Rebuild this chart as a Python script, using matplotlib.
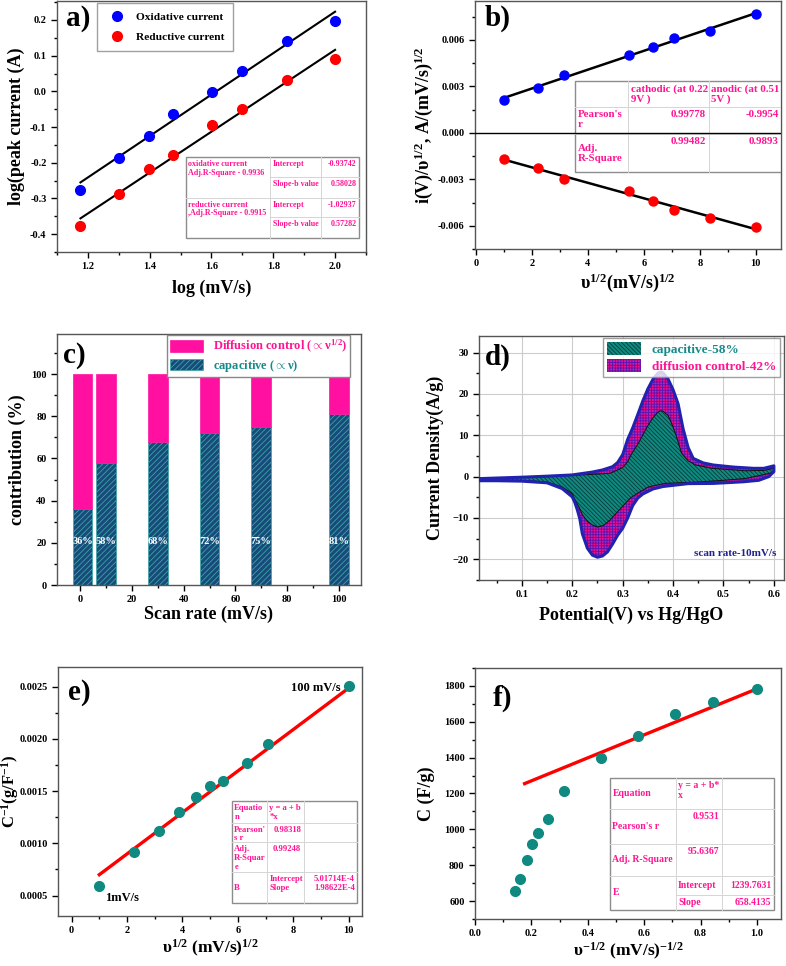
import numpy as np
import matplotlib
matplotlib.use("Agg")
import matplotlib.pyplot as plt
from matplotlib.patches import Rectangle, Patch
from matplotlib.ticker import MultipleLocator, FormatStrFormatter

plt.rcParams['font.family'] = ['Liberation Serif', 'DejaVu Serif']
plt.rcParams['font.weight'] = 'bold'
plt.rcParams['axes.labelweight'] = 'bold'
plt.rcParams['mathtext.fontset'] = 'custom'
plt.rcParams['mathtext.rm'] = 'Liberation Serif:bold'
plt.rcParams['mathtext.it'] = 'Liberation Serif:bold:italic'
plt.rcParams['mathtext.bf'] = 'Liberation Serif:bold'
plt.rcParams['mathtext.default'] = 'rm'
plt.rcParams['hatch.linewidth'] = 0.6

PINK = '#ff1493'
TEAL = '#108a80'

# ---- a) log peak current vs log scan rate
log_rate = [1.176, 1.301, 1.398, 1.477, 1.602, 1.699, 1.845, 2.0]
log_ox = [-0.275, -0.187, -0.125, -0.062, -0.002, 0.058, 0.142, 0.196]
log_red = [-0.377, -0.288, -0.217, -0.177, -0.095, -0.049, 0.033, 0.091]
ox_fit = (-0.93742, 0.58028)
red_fit = (-1.02937, 0.57282)

# ---- b) i/v^0.5 vs v^0.5
sqrt_rate_b = [1.0, 2.236, 3.162, 5.477, 6.325, 7.071, 8.367, 10.0]
anodic_b = [0.00214, 0.00291, 0.00370, 0.00503, 0.00556, 0.00610, 0.00655, 0.00766]
cathodic_b = [-0.00171, -0.00225, -0.00297, -0.00374, -0.00438, -0.00498, -0.00552, -0.00607]

# ---- c) contribution bars
scan_rate_c = [1, 10, 30, 50, 70, 100]
capacitive_c = [36, 58, 68, 72, 75, 81]

# ---- d) CV at 10 mV/s, total (outer) and capacitive (inner)
outer_up_v = [0.015, 0.05, 0.10, 0.15, 0.20, 0.24, 0.26, 0.28, 0.29, 0.30, 0.31, 0.32, 0.33,
              0.34, 0.35, 0.36, 0.37, 0.375, 0.38, 0.39, 0.40, 0.41, 0.42, 0.43, 0.44, 0.46,
              0.48, 0.52, 0.56, 0.58, 0.60]
outer_up_i = [-0.5, -0.35, -0.15, 0.1, 0.4, 1.1, 1.6, 2.4, 3.4, 5.3, 9.0, 11.8, 15.0,
              18.3, 21.2, 23.5, 25.0, 25.3, 25.1, 23.6, 21.0, 17.6, 11.5, 7.0, 4.4, 3.3,
              2.8, 2.3, 2.0, 2.0, 2.6]
outer_dn_v = [0.60, 0.59, 0.57, 0.54, 0.48, 0.43, 0.38, 0.36, 0.34, 0.33, 0.32, 0.31, 0.30,
              0.29, 0.28, 0.27, 0.26, 0.25, 0.24, 0.23, 0.22, 0.215, 0.21, 0.205, 0.20, 0.18,
              0.15, 0.10, 0.05, 0.015]
outer_dn_i = [1.2, 0.0, -0.9, -1.25, -1.65, -1.7, -2.4, -3.0, -4.2, -5.2, -7.0, -10.0, -12.5,
              -14.2, -16.3, -18.2, -19.2, -19.5, -19.0, -17.3, -13.8, -10.2, -8.0, -6.2, -4.9, -2.9,
              -1.5, -1.1, -1.0, -1.0]
inner_up_v = [0.015, 0.10, 0.15, 0.20, 0.25, 0.275, 0.29, 0.30, 0.31, 0.318, 0.33, 0.338, 0.35,
              0.36, 0.37, 0.375, 0.38, 0.39, 0.40, 0.407, 0.417, 0.43, 0.445, 0.478, 0.544,
              0.58, 0.60]
inner_up_i = [-0.6, -0.2, 0.0, 0.3, 0.6, 0.8, 1.6, 2.2, 3.6, 5.6, 7.8, 9.6, 12.3,
              14.2, 15.6, 15.9, 15.8, 14.8, 12.0, 9.6, 5.6, 3.8, 2.8, 2.0, 1.4,
              1.5, 2.0]
inner_dn_v = [0.60, 0.59, 0.544, 0.50, 0.45, 0.412, 0.383, 0.351, 0.33, 0.315, 0.305, 0.29,
              0.275, 0.262, 0.25, 0.24, 0.23, 0.22, 0.214, 0.207, 0.20, 0.18, 0.15, 0.10, 0.015]
inner_dn_i = [1.2, 0.75, -0.45, -0.9, -1.3, -1.5, -1.65, -2.5, -4.0, -5.2, -6.5, -8.5,
              -10.5, -11.8, -12.2, -11.7, -10.8, -9.2, -7.5, -6.0, -4.1, -2.5, -1.3, -0.9, -0.8]

# ---- e) 1/C vs v^0.5
sqrt_rate_e = [1.0, 2.236, 3.162, 3.873, 4.472, 5.0, 5.477, 6.325, 7.071, 10.0]
inv_cap = [0.000596, 0.000922, 0.00112, 0.00130, 0.00144, 0.00155, 0.00160, 0.00177, 0.00195, 0.00251]
e_fit = (5.01714e-4, 1.98622e-4)

# ---- f) C vs v^-0.5
inv_sqrt_rate = [0.143, 0.160, 0.184, 0.203, 0.225, 0.259, 0.317, 0.448, 0.578, 0.710, 0.844, 1.0]
cap_f = [656, 721, 828, 919, 982, 1058, 1216, 1398, 1520, 1642, 1712, 1781]
f_line_x = [0.176, 1.0]
f_line_y = [1255, 1784]


def style(ax, xmaj, xmin, ymaj, ymin):
    ax.xaxis.set_major_locator(MultipleLocator(xmaj))
    ax.xaxis.set_minor_locator(MultipleLocator(xmin))
    ax.yaxis.set_major_locator(MultipleLocator(ymaj))
    ax.yaxis.set_minor_locator(MultipleLocator(ymin))
    ax.tick_params(which='both', direction='out', labelsize=7.5, width=1)
    ax.tick_params(which='major', length=4)
    ax.tick_params(which='minor', length=2.5)
    for s in ax.spines.values():
        s.set_linewidth(1.0)
        s.set_color('#555555')
    for lab in ax.get_xticklabels() + ax.get_yticklabels():
        lab.set_fontweight('bold')


def draw_table(ax, box, col_edges, row_edges, hlines, cells, fs):
    x0, y0, x1, y1 = box
    X = lambda f: x0 + f * (x1 - x0)
    Y = lambda f: y1 - f * (y1 - y0)
    ax.add_patch(Rectangle((x0, y0), x1 - x0, y1 - y0, transform=ax.transAxes,
                           facecolor='white', edgecolor='#8c8c8c', lw=1.0, zorder=5))
    for c in col_edges[1:-1]:
        ax.plot([X(c), X(c)], [y0, y1], transform=ax.transAxes, color='#d5d5d5', lw=0.7, zorder=6)
    for r, c0, c1 in hlines:
        ax.plot([X(col_edges[c0]), X(col_edges[c1])], [Y(row_edges[r])] * 2,
                transform=ax.transAxes, color='#d5d5d5', lw=0.7, zorder=6)
    for r0, r1, c, txt, ha, va in cells:
        if ha == 'left':
            xt = X(col_edges[c]) + 0.008
        else:
            xt = X(col_edges[c + 1]) - 0.008
        if va == 'top':
            yt = Y(row_edges[r0]) - 0.012
        else:
            yt = (Y(row_edges[r0]) + Y(row_edges[r1])) / 2
        ax.text(xt, yt, txt, transform=ax.transAxes, ha=ha, va=va, fontsize=fs,
                color=PINK, fontweight='bold', zorder=7, linespacing=1.15)


def panel_label(ax, x, y, s):
    ax.text(x, y, s, transform=ax.transAxes, fontsize=21, fontweight='bold', va='top', ha='left')


fig = plt.figure(figsize=(7.86, 9.66), dpi=100)

# ================= a
ax = fig.add_axes([0.0725, 0.7391, 0.3931, 0.2598])
xa = np.array([log_rate[0], log_rate[-1]])
ax.plot(xa, ox_fit[0] + ox_fit[1] * xa, color='black', lw=1.5)
ax.plot(xa, red_fit[0] + red_fit[1] * xa, color='black', lw=1.5)
ax.plot(log_rate, log_ox, 'o', color='#0000ff', ms=7, label='Oxidative current', zorder=4)
ax.plot(log_rate, log_red, 'o', color='#ff0000', ms=7, label='Reductive current', zorder=4)
ax.set_xlim(1.10, 2.10)
ax.set_ylim(-0.45, 0.253)
style(ax, 0.2, 0.1, 0.1, 0.05)
ax.yaxis.set_major_formatter(FormatStrFormatter('%.1f'))
ax.set_xlabel('log (mV/s)', fontsize=13, labelpad=6)
ax.set_ylabel('log(peak current (A)', fontsize=13, labelpad=4)
leg = ax.legend(loc='upper left', bbox_to_anchor=(0.129, 0.992), fontsize=8.2, frameon=True,
                fancybox=False, edgecolor='#888888', borderpad=0.8, labelspacing=0.85,
                handletextpad=0.6, borderaxespad=0)
leg.get_frame().set_linewidth(1.0)
panel_label(ax, 0.03, 0.985, 'a)')
draw_table(ax, (0.417, 0.056, 0.977, 0.378), [0, 0.489, 0.784, 1], [0, 0.245, 0.5, 0.735, 1],
           [(1, 1, 3), (2, 0, 3), (3, 1, 3)],
           [(0, 1, 0, 'oxidative current\nAdj.R-Square - 0.9936', 'left', 'top'),
            (0, 1, 1, 'Intercept', 'left', 'top'),
            (0, 1, 2, '-0.93742', 'right', 'top'),
            (1, 2, 1, 'Slope-b value', 'left', 'top'),
            (1, 2, 2, '0.58028', 'right', 'top'),
            (2, 3, 0, 'reductive current\n,Adj.R-Square - 0.9915', 'left', 'top'),
            (2, 3, 1, 'Intercept', 'left', 'top'),
            (2, 3, 2, '-1.02937', 'right', 'top'),
            (3, 4, 1, 'Slope-b value', 'left', 'top'),
            (3, 4, 2, '0.57282', 'right', 'top')], 5.8)

# ================= b
ax = fig.add_axes([0.6043, 0.7422, 0.3893, 0.2567])
xb = np.array(sqrt_rate_b)
pa = np.polyfit(xb, anodic_b, 1)
pc = np.polyfit(xb, cathodic_b, 1)
ax.plot(xb[[0, -1]], np.polyval(pa, xb[[0, -1]]), color='black', lw=1.8, zorder=3)
ax.plot(xb[[0, -1]], np.polyval(pc, xb[[0, -1]]), color='black', lw=1.8, zorder=3)
ax.plot(xb, anodic_b, 'o', color='#0000ff', ms=6.5, zorder=4)
ax.plot(xb, cathodic_b, 'o', color='#ff0000', ms=6.5, zorder=4)
ax.set_xlim(-0.03, 10.9)
ax.set_ylim(-0.0075, 0.0085)
style(ax, 2, 1, 0.003, 0.0015)
ax.yaxis.set_major_formatter(FormatStrFormatter('%.3f'))
ax.set_xlabel('υ$^{1/2}$(mV/s)$^{1/2}$', fontsize=13, labelpad=2)
ax.set_ylabel('i(V)/υ$^{1/2}$, A/(mV/s)$^{1/2}$', fontsize=13, labelpad=2)
panel_label(ax, 0.033, 0.985, 'b)')
draw_table(ax, (0.327, 0.31, 1.0, 0.677), [0, 0.258, 0.649, 1], [0, 0.28, 0.58, 1],
           [(1, 0, 3), (2, 0, 3)],
           [(0, 1, 1, 'cathodic (at 0.22\n9V )', 'left', 'top'),
            (0, 1, 2, 'anodic (at 0.51\n5V )', 'left', 'top'),
            (1, 2, 0, "Pearson's\nr", 'left', 'top'),
            (1, 2, 1, '0.99778', 'right', 'top'),
            (1, 2, 2, '-0.9954', 'right', 'top'),
            (2, 3, 0, 'Adj.\nR-Square', 'left', 'center'),
            (2, 3, 1, '0.99482', 'right', 'top'),
            (2, 3, 2, '0.9893', 'right', 'top')], 7.8)
ax.axhline(0, color='black', lw=1.0, zorder=8)

# ================= c
ax = fig.add_axes([0.0725, 0.3944, 0.3868, 0.2598])
cap = np.array(capacitive_c)
ax.bar(scan_rate_c, cap, width=7.6, facecolor='#184a7a', edgecolor='#3aa6a6', hatch='//////',
       lw=0.5, label=r'capacitive ($\propto$ν)', zorder=2)
ax.bar(scan_rate_c, 100 - cap, bottom=cap, width=7.6, color='#ff10a0', edgecolor='#ff10a0',
       lw=0.5, label=r'Diffusion control ($\propto$ν$^{1/2}$)', zorder=2)
for xr, v in zip(scan_rate_c, capacitive_c):
    ax.text(xr, 20.5, f'{v}%', ha='center', va='center', color='white', fontsize=7.5,
            fontweight='bold', zorder=3)
ax.set_xlim(-8.9, 108.5)
ax.set_ylim(0, 119)
style(ax, 20, 10, 20, 10)
ax.set_xlabel('Scan rate (mV/s)', fontsize=13, labelpad=1)
ax.set_ylabel('contribution (%)', fontsize=13, labelpad=4)
h, l = ax.get_legend_handles_labels()
leg = ax.legend(h[::-1], l[::-1], loc='upper right', bbox_to_anchor=(0.965, 0.996), fontsize=9,
                fancybox=False, edgecolor='#888888', borderpad=0.25, labelspacing=0.2,
                handlelength=2.6, handleheight=1.05, borderaxespad=0, framealpha=1)
leg.get_texts()[0].set_color(PINK)
leg.get_texts()[1].set_color('#168a8a')
panel_label(ax, 0.02, 0.97, 'c)')

# ================= d
ax = fig.add_axes([0.6094, 0.3996, 0.3880, 0.2526])
ov = outer_up_v + outer_dn_v
oi = outer_up_i + outer_dn_i
iv = inner_up_v + inner_dn_v
ii = inner_up_i + inner_dn_i
ax.fill(ov, oi, facecolor='#e8128e', edgecolor='#5a14b0', hatch='++++++', lw=0, zorder=2)
ax.fill(iv, ii, facecolor=TEAL, edgecolor='#0a3a3a', hatch='\\\\\\\\\\\\\\\\', lw=0, zorder=3)
ax.plot(iv + [iv[0]], ii + [ii[0]], color='#111111', lw=0.7, zorder=4)
ax.plot(ov + [ov[0]], oi + [oi[0]], color='#2222b0', lw=2.2, zorder=5)
ax.set_xlim(0.015, 0.62)
ax.set_ylim(-25, 34)
style(ax, 0.1, 0.05, 10, 5)
ax.grid(True, which='major', color='#cccccc', lw=0.8, zorder=0)
ax.set_axisbelow(True)
ax.set_xlabel('Potential(V) vs Hg/HgO', fontsize=13, labelpad=5)
ax.set_ylabel('Current Density(A/g)', fontsize=13, labelpad=6)
hd = [Patch(facecolor=TEAL, edgecolor='#0a3a3a', hatch='\\\\\\\\\\\\\\\\', lw=0),
      Patch(facecolor='#e8128e', edgecolor='#5a14b0', hatch='++++++', lw=0)]
leg = ax.legend(hd, ['capacitive-58%', 'diffusion control-42%'], loc='upper right',
                bbox_to_anchor=(0.987, 0.992), fontsize=9.5, fancybox=False, edgecolor='#888888',
                borderpad=0.3, labelspacing=0.25, handlelength=2.6, handleheight=1.1, borderaxespad=0)
leg.get_texts()[0].set_color('#168a8a')
leg.get_texts()[1].set_color(PINK)
ax.text(0.974, 0.11, 'scan rate-10mV/s', transform=ax.transAxes, ha='right', va='center',
        fontsize=8, fontweight='bold', color='#202090')
panel_label(ax, 0.02, 0.97, 'd)')

# ================= e
ax = fig.add_axes([0.0738, 0.0518, 0.3868, 0.2578])
xe = np.array([sqrt_rate_e[0], sqrt_rate_e[-1]])
ax.plot(xe, e_fit[0] + e_fit[1] * xe, color='#ff0000', lw=2.4, zorder=3)
ax.plot(sqrt_rate_e, inv_cap, 'o', color=TEAL, ms=7, zorder=4)
ax.set_xlim(-0.49, 10.48)
ax.set_ylim(0.000305, 0.00269)
style(ax, 2, 1, 0.0005, 0.00025)
ax.yaxis.set_major_formatter(FormatStrFormatter('%.4f'))
ax.set_xlabel('υ$^{1/2}$ (mV/s)$^{1/2}$', fontsize=12.5, labelpad=2)
ax.set_ylabel('C$^{-1}$(g/F$^{-1}$)', fontsize=12, labelpad=-1)
ax.text(9.69, 0.00249, '100 mV/s', ha='right', va='center', fontsize=9, fontweight='bold')
ax.text(1.2, 0.000475, '1mV/s', ha='left', va='center', fontsize=9, fontweight='bold')
panel_label(ax, 0.033, 0.95, 'e)')
draw_table(ax, (0.572, 0.052, 0.984, 0.462), [0, 0.28, 0.573, 1], [0, 0.212, 0.404, 0.697, 1],
           [(1, 0, 3), (2, 0, 3), (3, 0, 3)],
           [(0, 1, 0, 'Equatio\nn', 'left', 'top'),
            (0, 1, 1, 'y = a + b\n*x', 'left', 'top'),
            (1, 2, 0, "Pearson'\ns r", 'left', 'top'),
            (1, 2, 1, '0.98318', 'right', 'top'),
            (2, 3, 0, 'Adj.\nR-Squar\ne', 'left', 'top'),
            (2, 3, 1, '0.99248', 'right', 'top'),
            (3, 4, 0, 'B', 'left', 'center'),
            (3, 4, 1, 'Intercept\nSlope', 'left', 'top'),
            (3, 4, 2, '5.01714E-4\n1.98622E-4', 'right', 'top')], 6.2)

# ================= f
ax = fig.add_axes([0.6043, 0.0487, 0.3893, 0.2598])
ax.plot(f_line_x, f_line_y, color='#ff0000', lw=2.4, zorder=3)
ax.plot(inv_sqrt_rate, cap_f, 'o', color=TEAL, ms=7, zorder=4)
ax.set_xlim(0.0, 1.085)
ax.set_ylim(500, 1900)
style(ax, 0.2, 0.1, 200, 100)
ax.xaxis.set_major_formatter(FormatStrFormatter('%.1f'))
ax.set_xlabel('υ$^{-1/2}$ (mV/s)$^{-1/2}$', fontsize=12.5, labelpad=2)
ax.set_ylabel('C (F/g)', fontsize=13, labelpad=6)
panel_label(ax, 0.059, 0.935, 'f)')
draw_table(ax, (0.441, 0.036, 0.977, 0.562), [0, 0.40, 0.685, 1],
           [0, 0.239, 0.499, 0.741, 0.887, 1],
           [(1, 0, 3), (2, 0, 3), (3, 0, 3), (4, 1, 3)],
           [(0, 1, 0, 'Equation', 'left', 'center'),
            (0, 1, 1, 'y = a + b*\nx', 'left', 'top'),
            (1, 2, 0, "Pearson's r", 'left', 'center'),
            (1, 2, 1, '0.9531', 'right', 'top'),
            (2, 3, 0, 'Adj. R-Square', 'left', 'center'),
            (2, 3, 1, '95.6367', 'right', 'top'),
            (3, 5, 0, 'E', 'left', 'center'),
            (3, 4, 1, 'Intercept', 'left', 'center'),
            (3, 4, 2, '1239.7631', 'right', 'center'),
            (4, 5, 1, 'Slope', 'left', 'center'),
            (4, 5, 2, '658.4135', 'right', 'center')], 7)

fig.savefig('out.png', dpi=100)
